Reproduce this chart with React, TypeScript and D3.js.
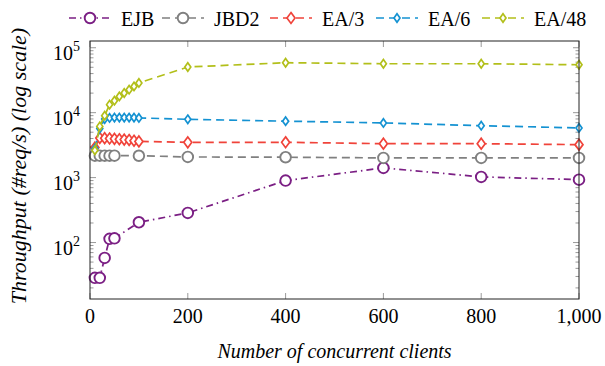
import * as d3 from 'd3';

// x positions of the measurements
const clientsA = [10, 20, 30, 40, 50, 100, 200, 400, 600, 800, 1000];
const clientsB = [10, 20, 30, 40, 50, 60, 70, 80, 90, 100, 200, 400, 600, 800, 1000];

// throughput (#req/s)
const ejb = [28.6, 28.6, 58, 114, 116, 205, 286, 900, 1410, 1025, 930];
const jbd2 = [2180, 2180, 2180, 2180, 2180, 2170, 2080, 2060, 2010, 2010, 2010];
const ea3 = [2900, 4080, 4050, 4000, 3950, 3900, 3850, 3800, 3700, 3610, 3490, 3500, 3330, 3330, 3220];
const ea6 = [2800, 5700, 8000, 8300, 8400, 8400, 8400, 8400, 8400, 8300, 7900, 7400, 6950, 6300, 5820];
const ea48 = [2630, 6150, 9000, 13300, 15300, 17800, 20100, 22600, 25400, 28700, 50500, 58800, 56700, 56700, 54700];

const xTicks = [0, 200, 400, 600, 800, 1000];
const yDecades = [2, 3, 4, 5];

type Series = {
  name: string;
  xs: number[];
  ys: number[];
  color: string;
  dash: string;
  mark: 'circle' | 'diamond';
  mw: number;
  mh: number;
};

const series: Series[] = [
  { name: 'EJB', xs: clientsA, ys: ejb, color: '#7b1f84', dash: '7,4,1.5,4', mark: 'circle', mw: 5.3, mh: 5.3 },
  { name: 'JBD2', xs: clientsA, ys: jbd2, color: '#808080', dash: '8,5', mark: 'circle', mw: 5.3, mh: 5.3 },
  { name: 'EA/3', xs: clientsB, ys: ea3, color: '#f0433a', dash: '8,5', mark: 'diamond', mw: 4, mh: 5.4 },
  { name: 'EA/6', xs: clientsB, ys: ea6, color: '#1492d2', dash: '8,5', mark: 'diamond', mw: 3, mh: 4.2 },
  { name: 'EA/48', xs: clientsB, ys: ea48, color: '#b2bf1a', dash: '8,5', mark: 'diamond', mw: 3, mh: 4.2 },
];

const W = 605;
const H = 366;
const m = { left: 90, right: 579, top: 41, bottom: 299 };
const FONT = "'Liberation Serif', 'Times New Roman', Tinos, serif";
const css = `svg text, svg tspan { font-family: ${FONT} !important; }`;

function Marker({ s, x, y }: { s: Series; x: number; y: number }) {
  if (s.mark === 'circle') {
    return <circle cx={x} cy={y} r={s.mw} fill="white" stroke={s.color} strokeWidth={1.9} />;
  }
  const p = `M${x},${y - s.mh}L${x + s.mw},${y}L${x},${y + s.mh}L${x - s.mw},${y}Z`;
  return <path d={p} fill="white" stroke={s.color} strokeWidth={1.7} />;
}

export default function App() {
  const x = d3.scaleLinear().domain([0, 1000]).range([m.left, m.right]);
  const y = d3.scaleLog().domain([13.5, 127000]).range([m.bottom, m.top]);

  const minor: number[] = [];
  for (let k = 1; k <= 5; k++) {
    for (let j = 2; j <= 9; j++) {
      const v = j * Math.pow(10, k);
      if (v > 13.5 && v < 127000) minor.push(v);
    }
  }

  const line = (s: Series) =>
    d3.line<number>().x((_, i) => x(s.xs[i])).y((d) => y(d))(s.ys) || '';

  const legendX = [69, 162, 270, 376, 482];
  const tf = { fontFamily: FONT };

  return (
    <svg width={W} height={H} style={{ position: 'absolute', left: 0, top: 0, fontFamily: FONT }} fontFamily={FONT}>
      <style>{css}</style>
      <rect width={W} height={H} fill="white" />

      <g stroke="#9a9a9a" strokeWidth={1}>
        {xTicks.map((t) => (
          <g key={t}>
            <line x1={x(t)} x2={x(t)} y1={m.bottom} y2={m.bottom - 6} />
            <line x1={x(t)} x2={x(t)} y1={m.top} y2={m.top + 6} />
          </g>
        ))}
        {yDecades.map((k) => {
          const yy = y(Math.pow(10, k));
          return (
            <g key={k}>
              <line x1={m.left} x2={m.left + 6} y1={yy} y2={yy} />
              <line x1={m.right} x2={m.right - 6} y1={yy} y2={yy} />
            </g>
          );
        })}
        {minor.map((v) => (
          <g key={v}>
            <line x1={m.left} x2={m.left + 3.5} y1={y(v)} y2={y(v)} />
            <line x1={m.right} x2={m.right - 3.5} y1={y(v)} y2={y(v)} />
          </g>
        ))}
      </g>

      {series.map((s) => (
        <g key={s.name}>
          <path d={line(s)} fill="none" stroke={s.color} strokeWidth={1.7} strokeDasharray={s.dash} />
          {s.ys.map((v, i) => (
            <Marker key={i} s={s} x={x(s.xs[i])} y={y(v)} />
          ))}
        </g>
      ))}

      <rect x={m.left} y={m.top} width={m.right - m.left} height={m.bottom - m.top} fill="none" stroke="#222" strokeWidth={1} />

      {xTicks.map((t) => (
        <text key={t} x={x(t)} y={323} fontSize={20} textAnchor="middle" fontFamily={FONT} style={tf}>
          {d3.format(',')(t)}
        </text>
      ))}
      {yDecades.map((k) => (
        <text key={k} x={80} y={y(Math.pow(10, k)) + 12} fontSize={20} textAnchor="end" fontFamily={FONT} style={tf}>
          10<tspan dy={-9} fontSize={14}>{k}</tspan>
        </text>
      ))}
      <text x={(m.left + m.right) / 2} y={358} fontSize={20} textAnchor="middle" fontStyle="italic" fontFamily={FONT} style={tf}>
        Number of concurrent clients
      </text>
      <text transform="translate(26,166) rotate(-90)" fontSize={22} textAnchor="middle" fontStyle="italic" fontFamily={FONT} style={tf}>
        Throughput (#req/s) (log scale)
      </text>

      {series.map((s, i) => {
        const lx = legendX[i];
        return (
          <g key={s.name}>
            <line x1={lx} x2={lx + 42} y1={18} y2={18} stroke={s.color} strokeWidth={1.7} strokeDasharray={s.dash} />
            <Marker s={s} x={lx + 21} y={18} />
            <text x={lx + 52} y={26} fontSize={20} fontFamily={FONT} style={tf}>
              {s.name}
            </text>
          </g>
        );
      })}
    </svg>
  );
}
